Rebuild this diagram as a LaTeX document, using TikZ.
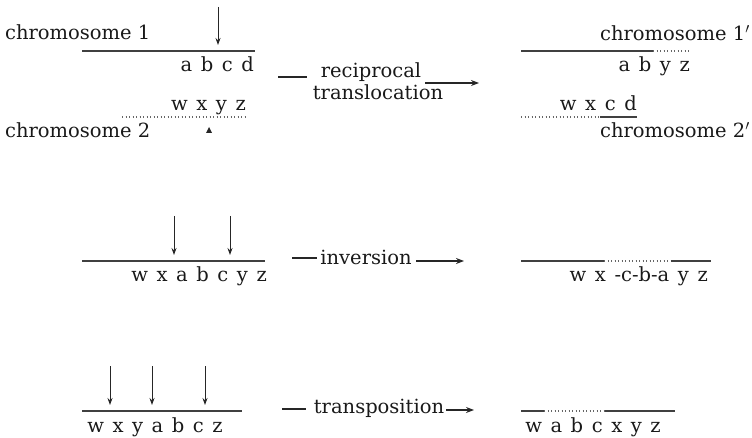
\documentclass[tikz,border=0pt]{standalone}
\usepackage{fontspec}
\setmainfont{DejaVu Serif}
\usetikzlibrary{arrows.meta}
\begin{document}
\begin{tikzpicture}[x=1pt,y=-1pt,
  txt/.style={inner sep=0pt,font=\fontsize{19.5}{24}\selectfont,text=black!90},
  seq/.style={txt,execute at begin node={\spaceskip=0.44em\relax}},
  solidseg/.style={line width=1.3pt,draw=black!75},
  dotseg/.style={line width=1.1pt,draw=black!60,dash pattern=on 1.3pt off 2.2pt},
  cut/.style={line width=0.9pt,draw=black!85,-{Stealth[length=7pt,width=5pt]}},
  proc/.style={line width=1.3pt,draw=black!85},
  procarrow/.style={line width=1.3pt,draw=black!85,-{Stealth[length=8pt,width=6pt]}}]
\useasboundingbox (0,0) rectangle (752,438);
% ---------- reciprocal translocation ----------
\node[txt,anchor=base west] (c1) at (5,40) {chromosome 1};
\coordinate (c1a) at (82,51); \coordinate (c1b) at (255,51);
\draw[solidseg] (c1a) -- (c1b);
\coordinate (cutA0) at (218,7); \coordinate (cutA1) at (218,45);
\draw[cut] (cutA0) -- (cutA1);
\node[seq,anchor=base east] (abcd) at (254,72) {a b c d};
\node[seq,anchor=base east] (wxyz) at (246,111) {w x y z};
\coordinate (c2a) at (122,117); \coordinate (c2b) at (246,117);
\draw[dotseg] (c2a) -- (c2b);
\node[txt,anchor=base west] (c2) at (5,138) {chromosome 2};
\coordinate (tri) at (209,130);
\fill[black!85] ([shift={(-3,3)}]tri) -- ([shift={(3,3)}]tri) -- ([shift={(0,-3)}]tri) -- cycle;

\coordinate (rtA) at (278,77); \coordinate (rtB) at (307,77);
\draw[proc] (rtA) -- (rtB);
\node[txt,anchor=base] (recip) at (371,78) {reciprocal};
\node[txt,anchor=base] (transl) at (378,100) {translocation};
\coordinate (rtC) at (425,83); \coordinate (rtD) at (479,83);
\draw[procarrow] (rtC) -- (rtD);

\node[txt,anchor=base east] (c1p) at (750,41) {chromosome 1$'$};
\coordinate (r1a) at (521,51); \coordinate (r1b) at (653,51); \coordinate (r1c) at (690,51);
\draw[solidseg] (r1a) -- (r1b);
\draw[dotseg] (r1b) -- (r1c);
\node[seq,anchor=base east] (abyz) at (690,72) {a b y z};
\node[seq,anchor=base east] (wxcd) at (637,111) {w x c d};
\coordinate (r2a) at (521,117); \coordinate (r2b) at (600,117); \coordinate (r2c) at (637,117);
\draw[dotseg] (r2a) -- (r2b);
\draw[solidseg] (r2b) -- (r2c);
\node[txt,anchor=base east] (c2p) at (750,138) {chromosome 2$'$};

% ---------- inversion ----------
\coordinate (i1a) at (82,261); \coordinate (i1b) at (265,261);
\draw[solidseg] (i1a) -- (i1b);
\coordinate (cutB0) at (174,216); \coordinate (cutB1) at (174,255);
\coordinate (cutC0) at (230,216); \coordinate (cutC1) at (230,255);
\draw[cut] (cutB0) -- (cutB1);
\draw[cut] (cutC0) -- (cutC1);
\node[seq,anchor=base east] (inv1) at (267,282) {w x a b c y z};
\coordinate (ivA) at (292,258); \coordinate (ivB) at (317,258);
\draw[proc] (ivA) -- (ivB);
\node[txt,anchor=base] (invlab) at (366,265) {inversion};
\coordinate (ivC) at (416,261); \coordinate (ivD) at (464,261);
\draw[procarrow] (ivC) -- (ivD);
\coordinate (i2a) at (521,261); \coordinate (i2b) at (604,261);
\coordinate (i2c) at (671,261); \coordinate (i2d) at (711,261);
\draw[solidseg] (i2a) -- (i2b);
\draw[dotseg] (i2b) -- (i2c);
\draw[solidseg] (i2c) -- (i2d);
\node[seq,anchor=base east] (inv2) at (708,282) {w x -c-b-a y z};

% ---------- transposition ----------
\coordinate (t1a) at (82,411); \coordinate (t1b) at (242,411);
\draw[solidseg] (t1a) -- (t1b);
\coordinate (cutD0) at (110,366); \coordinate (cutD1) at (110,405);
\coordinate (cutE0) at (152,366); \coordinate (cutE1) at (152,405);
\coordinate (cutF0) at (205,366); \coordinate (cutF1) at (205,405);
\draw[cut] (cutD0) -- (cutD1);
\draw[cut] (cutE0) -- (cutE1);
\draw[cut] (cutF0) -- (cutF1);
\node[seq,anchor=base] (tr1) at (155,432) {w x y a b c z};
\coordinate (tpA) at (282,409); \coordinate (tpB) at (306,409);
\draw[proc] (tpA) -- (tpB);
\node[txt,anchor=base] (tplab) at (379,413) {transposition};
\coordinate (tpC) at (446,410); \coordinate (tpD) at (474,410);
\draw[procarrow] (tpC) -- (tpD);
\coordinate (t2a) at (521,411); \coordinate (t2b) at (544,411);
\coordinate (t2c) at (605,411); \coordinate (t2d) at (675,411);
\draw[solidseg] (t2a) -- (t2b);
\draw[dotseg] (t2b) -- (t2c);
\draw[solidseg] (t2c) -- (t2d);
\node[seq,anchor=base] (tr2) at (593,432) {w a b c x y z};
\end{tikzpicture}
\end{document}
